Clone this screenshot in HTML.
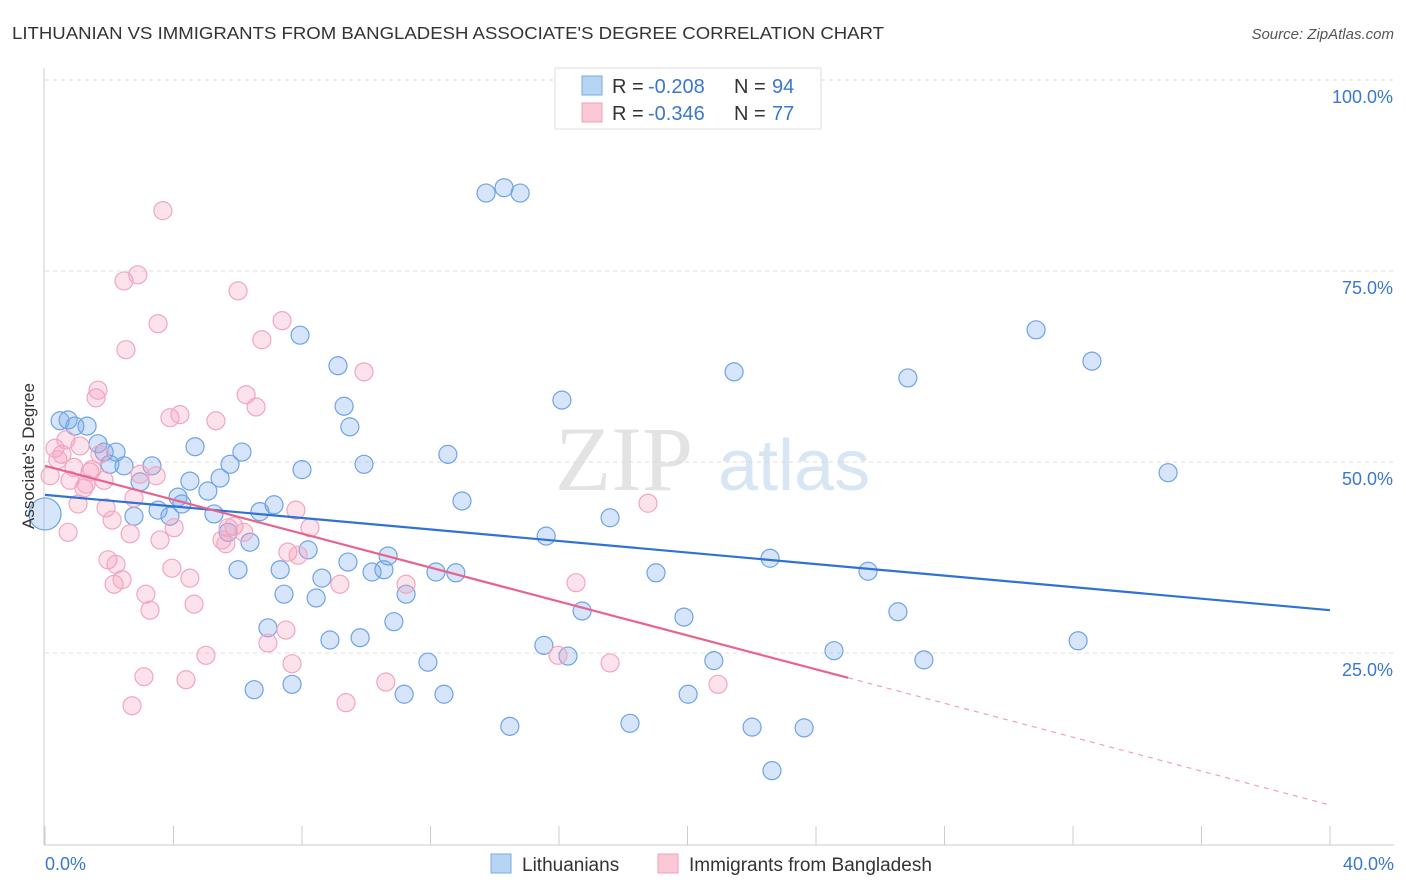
<!DOCTYPE html>
<html><head><meta charset="utf-8"><style>
body{margin:0;background:#fff;font-family:"Liberation Sans",sans-serif}
svg{display:block}
</style></head><body>
<svg width="1406" height="892" xmlns="http://www.w3.org/2000/svg" font-family="Liberation Sans, sans-serif">
<text x="12" y="39" font-size="17.5" fill="#333" textLength="872" lengthAdjust="spacingAndGlyphs">LITHUANIAN VS IMMIGRANTS FROM BANGLADESH ASSOCIATE'S DEGREE CORRELATION CHART</text>
<text x="1394" y="39" font-size="15" fill="#555" text-anchor="end" font-style="italic">Source: ZipAtlas.com</text>
<g id="grid"></g>
<text x="555" y="490" font-size="92" fill="#d8d8d8" font-family="Liberation Serif, serif" opacity="0.7">ZIP</text>
<text x="718" y="490" font-size="72" fill="#c8dcf0" opacity="0.7">atlas</text>
<g id="pts"></g>
<g id="lines"></g>
<text transform="translate(34,456) rotate(-90)" font-size="17" fill="#333" text-anchor="middle">Associate's Degree</text>
<g>
<rect x="555" y="68" width="266" height="61" fill="#fff" stroke="#ddd"/>
<rect x="582" y="76" width="20" height="19" fill="#b8d4f4" stroke="#7aaae6"/>
<rect x="582" y="103" width="20" height="19" fill="#fbc8d6" stroke="#f0a0b8"/>
<text x="612" y="93" font-size="20" fill="#333">R =</text>
<text x="648" y="93" font-size="20" fill="#3a78d0">-0.208</text>
<text x="734" y="93" font-size="20" fill="#333">N =</text>
<text x="772" y="93" font-size="20" fill="#3a78d0">94</text>
<text x="612" y="120" font-size="20" fill="#333">R =</text>
<text x="648" y="120" font-size="20" fill="#3a78d0">-0.346</text>
<text x="734" y="120" font-size="20" fill="#333">N =</text>
<text x="772" y="120" font-size="20" fill="#3a78d0">77</text>
</g>
<g>
<rect x="491" y="854" width="20" height="19" fill="#b8d4f4" stroke="#7aaae6"/>
<text x="522" y="871" font-size="19" fill="#333">Lithuanians</text>
<rect x="658" y="854" width="20" height="19" fill="#fbc8d6" stroke="#f0a0b8"/>
<text x="689" y="871" font-size="19" fill="#333">Immigrants from Bangladesh</text>
</g>
</svg>
<script>
const yTicks=[100,75,50,25];
const yTickLabels=["100.0%","75.0%","50.0%","25.0%"];
const xTicks=[0,4,8,12,16,20,24,28,32,36,40];
const blueX=[0.47,0.72,1.31,0.93,1.65,1.84,2.21,2.02,2.46,3.33,2.96,2.77,3.52,3.89,4.14,4.26,4.51,4.67,5.07,5.26,5.45,5.76,6.13,5.70,6.38,6.01,6.69,7.13,7.32,7.44,6.94,6.51,7.69,7.94,8.00,8.19,8.44,8.62,8.87,9.12,9.31,9.49,9.43,9.81,9.93,10.18,10.55,10.68,10.86,11.24,11.18,11.92,12.17,12.54,12.42,12.79,12.98,13.73,14.29,14.79,14.47,15.60,15.53,16.09,16.28,16.72,17.59,18.21,19.02,19.89,20.02,20.82,21.45,22.01,22.57,22.63,23.63,24.56,25.62,26.55,26.86,27.36,30.85,32.16,32.59,34.96];
const blueY=[55.4,55.5,54.7,54.7,52.4,51.3,51.3,49.7,49.5,49.5,47.4,42.9,43.7,42.9,45.4,44.5,47.5,52.0,46.2,43.2,47.9,49.7,51.3,40.8,39.5,35.9,43.5,44.4,35.9,32.7,28.3,20.2,20.9,66.6,49.0,38.5,32.2,34.8,26.7,62.6,57.3,54.6,36.9,27.0,49.7,35.6,35.9,37.7,29.1,32.7,19.6,23.8,35.6,51.0,19.6,35.5,44.9,85.2,85.9,85.2,15.4,40.3,26.0,58.1,24.6,30.5,42.7,15.8,35.5,29.7,19.6,24.0,61.8,15.3,37.4,9.6,15.2,25.3,35.7,30.4,61.0,24.1,67.3,26.6,63.2,48.6];
const pinkX=[0.16,0.31,0.40,0.53,0.65,0.72,0.78,0.90,1.03,1.09,1.21,1.28,1.40,1.46,1.59,1.65,1.71,1.84,1.90,1.96,2.09,2.15,2.21,2.40,2.52,2.46,2.65,2.77,2.89,2.96,3.14,3.27,3.08,2.71,3.46,3.52,3.58,3.67,3.89,3.95,4.02,4.20,4.39,4.51,4.64,5.01,5.32,5.51,5.63,5.70,5.88,6.01,6.19,6.26,6.57,6.75,6.94,7.38,7.50,7.56,7.69,7.81,7.88,8.25,9.18,9.37,9.93,10.61,11.24,15.97,16.53,17.59,18.77,20.95];
const pinkY=[48.2,51.8,50.3,51.0,52.9,40.8,47.6,49.3,44.5,52.1,46.6,47.1,48.7,49.0,58.4,59.4,51.0,47.6,44.0,37.2,42.4,34.0,36.6,34.6,64.7,73.7,40.6,45.3,74.5,48.4,32.7,30.6,21.9,18.1,48.2,68.1,39.8,82.9,55.8,36.1,41.4,56.2,21.5,34.8,31.4,24.7,55.4,39.8,39.3,41.4,41.6,72.4,40.8,58.8,57.2,66.0,26.3,68.5,28.0,38.2,23.6,43.7,37.8,41.4,34.0,18.5,61.8,21.2,34.0,24.7,34.2,23.7,44.6,20.9];
const blueTrend=[45.7,30.6];
const pinkTrend=[49.5,5.1];
const pinkSolidEnd=25.0;
const NS="http://www.w3.org/2000/svg";
const X0=45,X1=1330,Y0=844,Y100=80;
function sx(v){return X0+(X1-X0)*v/40;}
function sy(v){return Y0-(Y0-Y100)*v/100;}
function mk(tag,attrs,parent){const e=document.createElementNS(NS,tag);for(const k in attrs)e.setAttribute(k,attrs[k]);parent.appendChild(e);return e;}
const grid=document.getElementById('grid');
yTicks.forEach((t,i)=>{
 const l=mk('line',{x1:45,x2:1394,y1:sy(t),y2:sy(t),stroke:'#ddd','stroke-dasharray':'4,4'},grid);
 
 
 const tx=mk('text',{x:1393,y:sy(t)+23,'font-size':18,fill:'#3a78d0','text-anchor':'end'},grid);
 tx.textContent=yTickLabels[i];
 
 
});
const ax=mk('line',{x1:44,x2:44,y1:68,y2:845,stroke:'#ccc'},grid);


const bx=mk('line',{x1:44,x2:1394,y1:845,y2:845,stroke:'#ccc'},grid);


xTicks.forEach(t=>{
 const l=mk('line',{x1:sx(t),x2:sx(t),y1:826,y2:845,stroke:'#ccc'},grid);
 
 
});
const xl0=mk('text',{x:45,y:870,'font-size':18,fill:'#3a78d0'},grid);xl0.textContent='0.0%';


const xl1=mk('text',{x:1394,y:870,'font-size':18,fill:'#3a78d0','text-anchor':'end'},grid);xl1.textContent='40.0%';


const pts=document.getElementById('pts');
blueX.forEach((x,i)=>{
 const c=mk('circle',{cx:sx(x),cy:sy(blueY[i]),r:9,fill:'rgba(120,170,235,0.3)',stroke:'#6fa3e6','stroke-width':1.2},pts);
 
 
});
const big=mk('circle',{cx:sx(0),cy:sy(43.2),r:16,fill:'rgba(120,170,235,0.3)',stroke:'#6fa3e6','stroke-width':1.2},pts);


pinkX.forEach((x,i)=>{
 const c=mk('circle',{cx:sx(x),cy:sy(pinkY[i]),r:9,fill:'rgba(245,160,190,0.3)',stroke:'#f2a6bf','stroke-width':1.2},pts);
 
 
});
const lines=document.getElementById('lines');
const bl=mk('line',{x1:sx(0),y1:sy(blueTrend[0]),x2:sx(40),y2:sy(blueTrend[1]),stroke:'#2f72d6','stroke-width':2.2},lines);


const pm=pinkTrend[0]+(pinkTrend[1]-pinkTrend[0])*pinkSolidEnd/40;
const pl=mk('line',{x1:sx(0),y1:sy(pinkTrend[0]),x2:sx(pinkSolidEnd),y2:sy(pm),stroke:'#e8638e','stroke-width':2.2},lines);


const pd=mk('line',{x1:sx(pinkSolidEnd),y1:sy(pm),x2:sx(40),y2:sy(pinkTrend[1]),stroke:'#f0a0b8','stroke-width':1.2,'stroke-dasharray':'5,5'},lines);


</script>
</body></html>
